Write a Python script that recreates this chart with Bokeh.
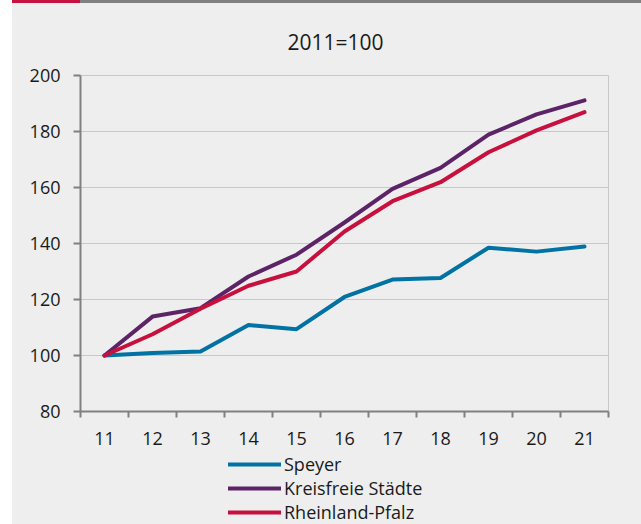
from bokeh.plotting import figure
from bokeh.models import FixedTicker, Legend, LegendItem, Range1d, Div, Spacer
from bokeh.layouts import row, column
from bokeh.embed import file_html
from bokeh.resources import INLINE

# ---- data ----
years = ["11", "12", "13", "14", "15", "16", "17", "18", "19", "20", "21"]
speyer = [100, 100.9, 101.4, 110.9, 109.4, 120.9, 127.1, 127.7, 138.5, 137.1, 138.9]
kreisfreie = [100, 113.9, 116.9, 128.2, 136.0, 147.5, 159.5, 167.0, 178.9, 186.1, 191.1]
rlp = [100, 107.6, 116.7, 124.9, 130.0, 144.3, 155.1, 161.9, 172.6, 180.4, 186.9]
y_ticks = [80, 100, 120, 140, 160, 180, 200]
series_names = ["Speyer", "Kreisfreie Städte", "Rheinland-Pfalz"]
title_text = "2011=100"

# ---- styling ----
FONT = "Open Sans"
BG = "#EDEEED"
TXT = "#1A1A1A"
AXIS = "#808080"
GRID = "#C8C8C8"
colors = ["#0072A3", "#5C2366", "#C8103E"]

x = [int(y) for y in years]
series = [speyer, kreisfreie, rlp]

W = 629
H_MAIN = 447
H_LEG = 74

p = figure(width=W, height=H_MAIN,
           x_range=Range1d(x[0] - 0.5, x[-1] + 0.5),
           y_range=Range1d(y_ticks[0], y_ticks[-1]),
           output_backend="svg", toolbar_location=None,
           min_border_left=68, min_border_right=33,
           min_border_top=72, min_border_bottom=39,
           background_fill_color=BG, border_fill_color=BG,
           outline_line_color=GRID, outline_line_width=1)

p.title.text = title_text
p.title.align = "left"
p.title.offset = 207
p.title.text_font = FONT
p.title.text_font_size = "21px"
p.title.text_font_style = "normal"
p.title.text_color = TXT
p.title.standoff = 39

p.xgrid.visible = False
p.ygrid.ticker = FixedTicker(ticks=y_ticks)
p.ygrid.grid_line_color = GRID
p.ygrid.grid_line_width = 1

xa = p.xaxis[0]
xa.ticker = FixedTicker(ticks=x, minor_ticks=[v - 0.5 for v in x] + [x[-1] + 0.5])
xa.major_label_overrides = {v: lab for v, lab in zip(x, years)}
xa.major_tick_out = 0
xa.major_tick_in = 0
xa.minor_tick_out = 6
xa.minor_tick_in = 0
xa.minor_tick_line_color = AXIS
xa.minor_tick_line_width = 2
xa.axis_line_color = AXIS
xa.axis_line_width = 2
xa.major_label_standoff = 14
xa.major_label_text_font = FONT
xa.major_label_text_font_size = "18px"
xa.major_label_text_color = TXT

ya = p.yaxis[0]
ya.ticker = FixedTicker(ticks=y_ticks)
ya.major_tick_out = 7
ya.major_tick_in = 0
ya.major_tick_line_color = AXIS
ya.major_tick_line_width = 2
ya.minor_tick_out = 0
ya.minor_tick_in = 0
ya.axis_line_color = AXIS
ya.axis_line_width = 2
ya.major_label_standoff = 13
ya.major_label_text_font = FONT
ya.major_label_text_font_size = "18px"
ya.major_label_text_color = TXT

for vals, col in zip(series, colors):
    p.line(x, vals, line_color=col, line_width=4,
           line_cap="round", line_join="round")

# ---- legend strip below the chart (same frame geometry as the chart) ----
pl = figure(width=W, height=H_LEG,
            x_range=Range1d(x[0] - 0.5, x[-1] + 0.5), y_range=Range1d(0, 1),
            x_axis_type=None, y_axis_type=None,
            output_backend="svg", toolbar_location=None,
            min_border_left=68, min_border_right=33,
            min_border_top=0, min_border_bottom=0,
            background_fill_color=BG, border_fill_color=BG,
            outline_line_color=None)
pl.grid.visible = False
# series drawn outside this strip's y-range (clipped), only used as legend glyphs
leg_renderers = [pl.line(x, vals, line_color=col, line_width=4, line_cap="round")
                 for vals, col in zip(series, colors)]
legend = Legend(items=[LegendItem(label=n, renderers=[r]) for n, r in zip(series_names, leg_renderers)],
                location=(148, 0), orientation="vertical",
                padding=0, margin=0, spacing=0,
                glyph_width=53, glyph_height=20, label_height=20,
                label_standoff=3, label_text_font=FONT,
                label_text_font_size="18px", label_text_color=TXT,
                background_fill_alpha=0, border_line_alpha=0)
pl.add_layout(legend, "center")

bar = Div(text="", width=W, height=3, margin=0,
          styles={"background": "linear-gradient(to right, #C8103E 68px, #808080 68px)"})
layout = row(Spacer(width=12, height=H_MAIN + H_LEG + 3, margin=0),
             column(bar, p, pl, spacing=0, margin=0, styles={"background": BG}),
             spacing=0, margin=0)

open("out.html", "w").write(file_html(layout, INLINE))
